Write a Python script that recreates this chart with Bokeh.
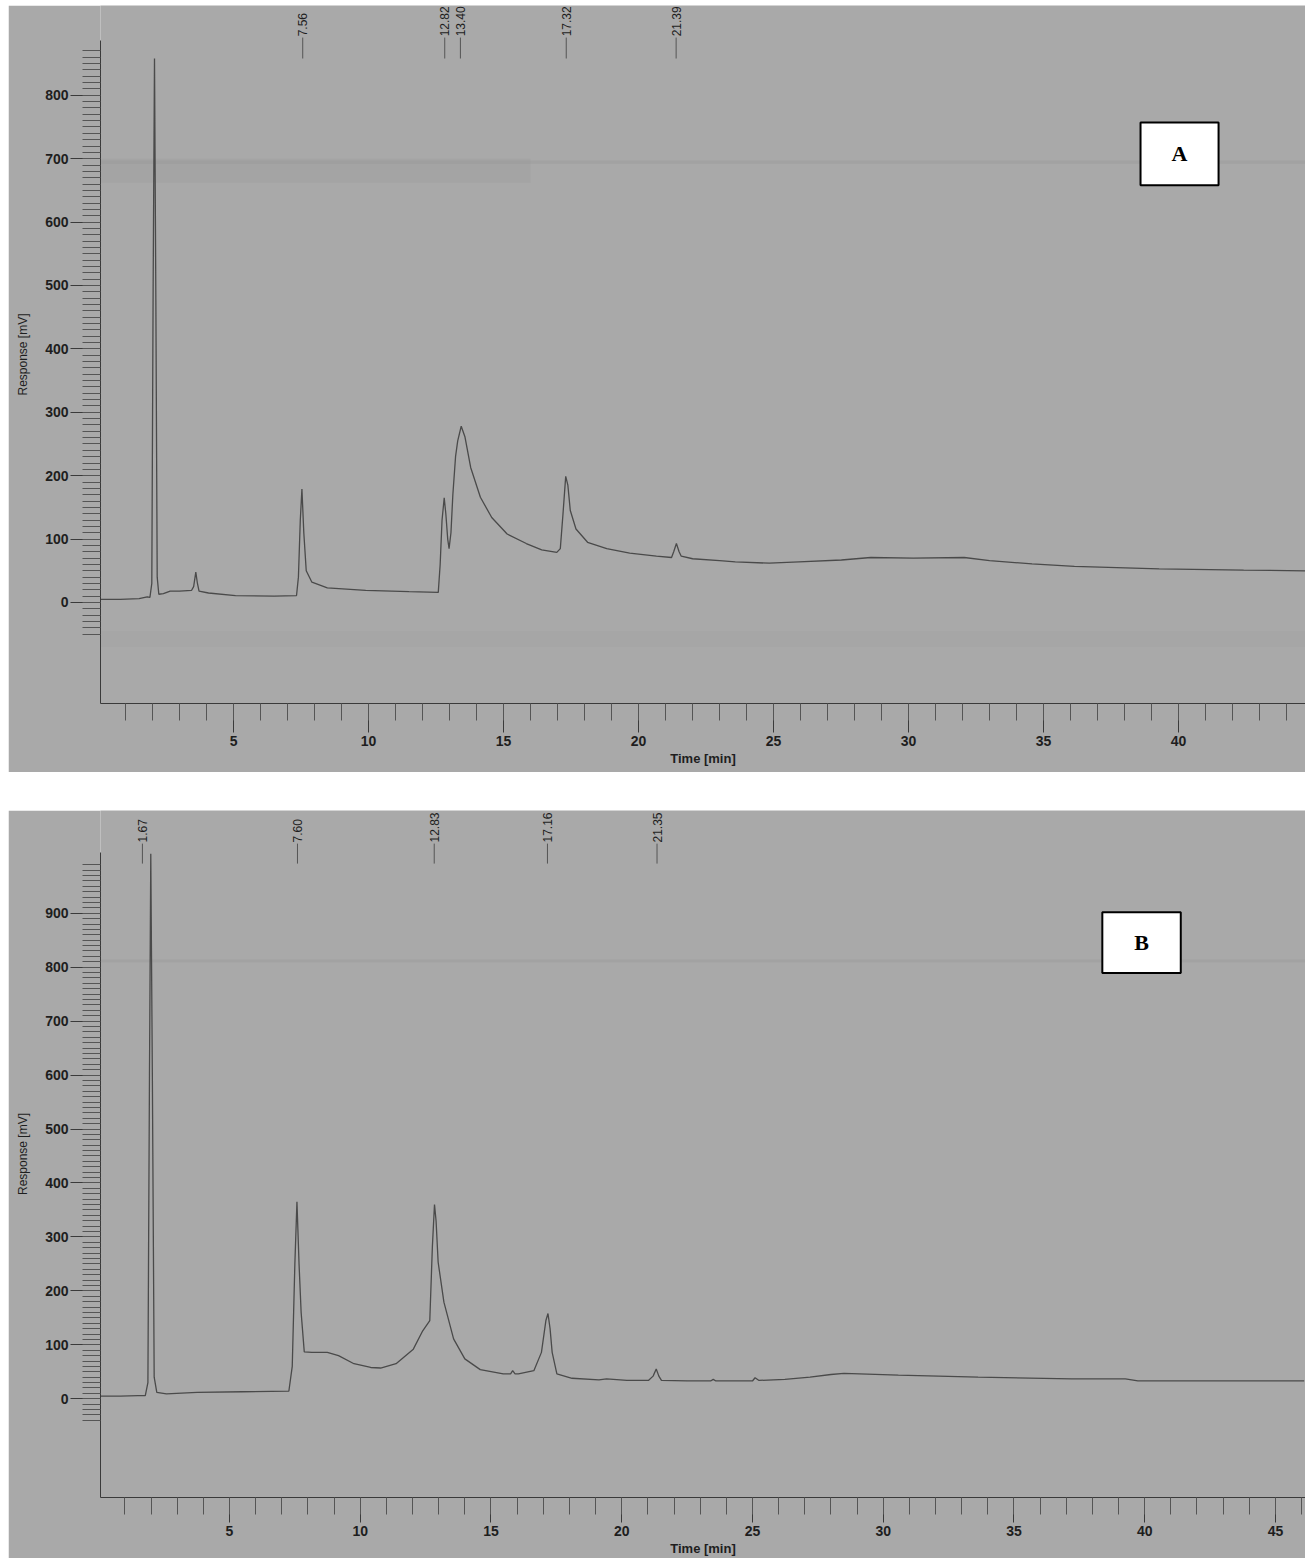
import math
from bokeh.plotting import figure
from bokeh.models import FixedTicker, BoxAnnotation, Label, Spacer, ColumnDataSource, Range1d, Span
from bokeh.layouts import column, row
from bokeh.core.properties import value
from bokeh.embed import file_html
from bokeh.resources import INLINE

# ---------------- data: chromatogram A ----------------
time_a = [0.05, 0.8, 1.5, 1.8, 1.9, 1.97, 2.02, 2.07, 2.12, 2.17, 2.23, 2.4, 2.65, 3.0, 3.44, 3.52,
          3.6, 3.66, 3.72, 4.07, 5.07, 6.5, 7.33, 7.4, 7.47, 7.53, 7.6, 7.69, 7.9, 8.47, 9.89, 11.5,
          12.58, 12.65, 12.72, 12.8, 12.86, 12.93, 12.98, 13.05, 13.12, 13.22, 13.3, 13.43, 13.57,
          13.78, 14.14, 14.56, 15.13, 15.84, 16.41, 16.97, 17.1, 17.2, 17.3, 17.38, 17.47, 17.68,
          18.11, 18.82, 19.67, 20.66, 21.22, 21.3, 21.4, 21.5, 21.58, 22.0, 23.0, 23.58, 24.84,
          25.94, 27.51, 28.6, 30.17, 32.06, 33.0, 34.57, 36.14, 39.28, 42.41, 44.7]
resp_a = [5, 5, 6, 9, 8, 30, 500, 858, 480, 40, 13, 14, 18, 18, 19, 25,
          48, 30, 18, 15, 11, 10, 11, 40, 130, 179, 110, 50, 32, 23, 19, 17,
          16, 60, 130, 165, 140, 100, 85, 110, 170, 230, 255, 278, 261,
          213, 166, 134, 108, 93, 83, 79, 85, 140, 199, 185, 145, 116,
          95, 85, 78, 73, 71, 80, 93, 80, 73, 69, 66, 64, 62,
          64, 67, 71, 70, 71, 66, 61, 57, 53, 51, 50]
peak_rt_a = [7.56, 12.82, 13.40, 17.32, 21.39]
peak_lbl_a = ["7.56", "12.82", "13.40", "17.32", "21.39"]

# ---------------- data: chromatogram B ----------------
time_b = [0.05, 0.83, 1.5, 1.78, 1.88, 1.94, 1.99, 2.05, 2.12, 2.22, 2.59, 3.76, 5.5, 7.27, 7.4,
          7.5, 7.58, 7.66, 7.74, 7.86, 8.15, 8.74, 9.17, 9.76, 10.4, 10.78, 11.37, 12.03, 12.39,
          12.66, 12.76, 12.84, 12.9, 12.98, 13.2, 13.57, 14.0, 14.59, 15.47, 15.75, 15.83, 15.92,
          16.05, 16.64, 16.93, 17.1, 17.18, 17.26, 17.34, 17.52, 18.1, 19.13, 19.42, 20.2, 21.02,
          21.2, 21.32, 21.42, 21.52, 22.5, 23.4, 23.5, 23.6, 25.0, 25.1, 25.25, 26.24, 27.2, 28.0,
          28.5, 30.58, 33.63, 37.2, 39.26, 39.74, 46.1]
resp_b = [5, 5, 6, 6, 30, 600, 1010, 600, 40, 12, 9, 12, 13, 14, 60,
          250, 365, 250, 160, 87, 86, 86, 80, 65, 58, 57, 65, 92, 126,
          145, 283, 360, 330, 253, 179, 111, 74, 54, 46, 46, 52, 46,
          46, 52, 86, 145, 158, 130, 86, 46, 38, 35, 37, 34, 34,
          42, 55, 42, 34, 33, 33, 36, 33, 33, 39, 34, 36, 40, 45,
          47, 44, 40, 37, 37, 33, 33]
peak_rt_b = [1.67, 7.60, 12.83, 17.16, 21.35]
peak_lbl_b = ["1.67", "7.60", "12.83", "17.16", "21.35"]

# axis ticks
xmajor_a = [5, 10, 15, 20, 25, 30, 35, 40]
xminor_a = list(range(1, 45))
ymajor_a = [0, 100, 200, 300, 400, 500, 600, 700, 800]
yminor_a = list(range(-50, 880, 10))

xmajor_b = [5, 10, 15, 20, 25, 30, 35, 40, 45]
xminor_b = list(range(1, 47))
ymajor_b = [0, 100, 200, 300, 400, 500, 600, 700, 800, 900]
yminor_b = list(range(-40, 1000, 10))

BG = "#a9a9a9"
INK = "#1e1e1e"
LINE = "#4a4a4a"


def panel(width, height, xr, yr, border_bottom, xmaj, xmin, ymaj, ymin, ybounds, xmto, times, resp,
          rts, lbls, lbl_y, seg_top, seg_bot, streaks, box, tag):
    p = figure(width=width, height=height, x_range=Range1d(*xr), y_range=Range1d(*yr),
               output_backend="svg", toolbar_location=None,
               min_border_left=92, min_border_right=0, min_border_top=0,
               min_border_bottom=border_bottom)
    p.background_fill_color = BG
    p.border_fill_color = BG
    p.outline_line_color = None
    p.xgrid.visible = False
    p.ygrid.visible = False

    # faint scan streaks of the original paper, kept beneath everything
    for (lo, hi, x1, alpha) in streaks:
        p.add_layout(BoxAnnotation(bottom=lo, top=hi, left=xr[0], right=x1, fill_color="#9a9a9a",
                                   fill_alpha=alpha, line_color=None, level="underlay"))

    xa = p.xaxis[0]
    xa.ticker = FixedTicker(ticks=xmaj, minor_ticks=xmin)
    xa.axis_label = "Time [min]"
    xa.major_tick_out = xmto
    xa.major_tick_in = 0
    xa.minor_tick_out = 17
    xa.minor_tick_in = 0
    xa.major_label_standoff = 3
    xa.axis_label_standoff = 2
    ya = p.yaxis[0]
    ya.ticker = FixedTicker(ticks=ymaj, minor_ticks=ymin)
    ya.bounds = ybounds
    ya.axis_label = "Response [mV]"
    ya.major_tick_out = 30
    ya.major_tick_in = 0
    ya.minor_tick_out = 18
    ya.minor_tick_in = 0
    ya.major_label_standoff = 2
    ya.axis_label_standoff = 12
    for ax in (xa, ya):
        ax.axis_line_color = "#3a3a3a"
        ax.major_tick_line_color = "#3a3a3a"
        ax.minor_tick_line_color = "#555555"
        ax.major_label_text_font = "Liberation Sans"
        ax.major_label_text_font_size = "14px"
        ax.major_label_text_font_style = "bold"
        ax.major_label_text_color = INK
        ax.axis_label_text_font = "Liberation Sans"
        ax.axis_label_text_color = INK
        ax.axis_label_text_font_size = "12px"
    xa.axis_label_text_font_style = "bold"
    xa.axis_label_text_font_size = "13px"
    ya.axis_label_text_font_style = "normal"

    src = ColumnDataSource(dict(t=times, r=resp))
    p.line("t", "r", source=src, line_color=LINE, line_width=1.3)

    lsrc = ColumnDataSource(dict(x=rts, lbl=lbls))
    p.text(x="x", y=lbl_y, text="lbl", source=lsrc, angle=math.pi / 2,
           text_align="left", text_baseline="middle",
           text_font=value("Liberation Sans"), text_font_size="12px", text_color=INK)
    p.segment(x0="x", y0=seg_top, x1="x", y1=seg_bot, source=lsrc,
              line_color="#555555", line_width=1)

    l, r, t, b = box
    p.add_layout(BoxAnnotation(left=l, right=r, top=t, bottom=b, fill_color="white",
                               fill_alpha=1.0, line_color="black", line_width=2, line_alpha=1.0))
    p.add_layout(Label(x=(l + r) / 2, y=(t + b) / 2, text=tag, text_align="center",
                       text_baseline="middle", text_font="Liberation Serif",
                       text_font_style="bold", text_font_size="22px", text_color="black"))
    return p


pA = panel(1297, 767, (0.07, 44.7), (-159.3, 941.6), 69, xmajor_a, xminor_a, ymajor_a, yminor_a,
           (-159.3, 886), 29, time_a, resp_a, peak_rt_a, peak_lbl_a, 893, 891, 858,
           [(662, 700, 16.0, 0.35), (692, 697, 44.7, 0.45), (-70, -45, 44.7, 0.15)],
           (38.59, 41.48, 757, 658), "A")
pB = panel(1297, 748, (0.067, 46.15), (-183.0, 1090.4), 59, xmajor_b, xminor_b, ymajor_b, yminor_b,
           (-183.0, 1013), 25, time_b, resp_b, peak_rt_b, peak_lbl_b, 1031, 1029, 992,
           [(809, 814, 46.15, 0.45)],
           (38.38, 41.38, 902, 789), "B")

layout = row(Spacer(width=8), column(Spacer(height=5), pA, Spacer(height=38), pB))
open("out.html", "w").write(file_html(layout, INLINE))
